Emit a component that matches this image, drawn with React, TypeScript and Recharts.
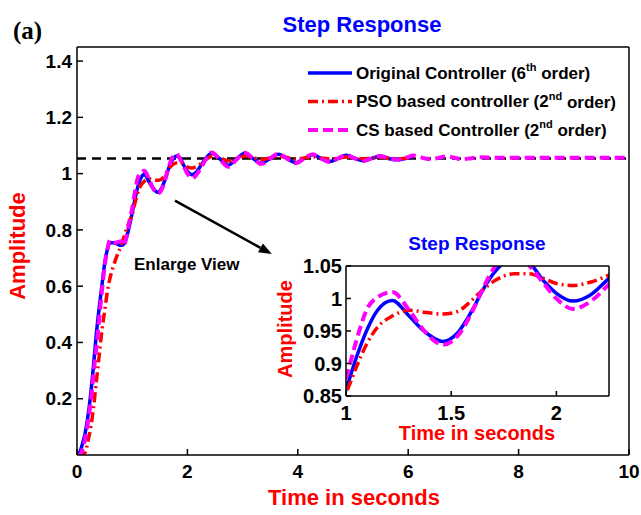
import { LineChart, Line, XAxis, YAxis, ReferenceLine } from "recharts";

// sample times (s) and step responses
const time = [
  0, 0.05, 0.1, 0.15, 0.2, 0.25, 0.3, 0.35, 0.4, 0.45, 0.5, 0.55, 0.6,
  0.7, 0.8, 0.85, 0.9, 0.95, 1.0, 1.05, 1.1, 1.15, 1.22, 1.3, 1.37, 1.46,
  1.53, 1.6, 1.65, 1.71, 1.8, 1.87, 1.94,
  2.0, 2.08, 2.16, 2.25, 2.35, 2.44, 2.59, 2.74, 2.89, 3.04, 3.19, 3.34, 3.5,
  3.65, 3.8, 3.96, 4.12, 4.27, 4.42, 4.58, 4.73, 4.88, 5.03, 5.19, 5.34, 5.49,
  5.64, 5.8, 5.95, 6.1, 6.25, 6.4, 6.55, 6.7, 6.85, 6.97, 7.15, 7.3, 7.6, 8, 9, 10,
];

const original = [
  0, 0.01, 0.04, 0.08, 0.14, 0.22, 0.32, 0.43, 0.52, 0.6, 0.68, 0.73, 0.755,
  0.752, 0.745, 0.75, 0.775, 0.815, 0.86, 0.91, 0.952, 0.982, 0.997, 0.973, 0.95, 0.934,
  0.947, 0.982, 1.013, 1.042, 1.063, 1.055, 1.027,
  1.008, 0.996, 1.005, 1.031, 1.058, 1.072, 1.052, 1.03, 1.052, 1.072, 1.054, 1.037, 1.054,
  1.069, 1.054, 1.039, 1.054, 1.067, 1.054, 1.043, 1.054, 1.065, 1.054, 1.046, 1.054, 1.062,
  1.054, 1.049, 1.054, 1.059, null, null, null, null, null, null, null, null, null, null, null, null,
];

const pso = [
  0, 0, 0.003, 0.01, 0.05, 0.1, 0.17, 0.26, 0.35, 0.44, 0.51, 0.58, 0.63,
  0.695, 0.745, 0.775, 0.805, 0.83, 0.855, 0.895, 0.931, 0.956, 0.973, 0.982, 0.979, 0.976,
  0.98, 0.998, 1.013, 1.028, 1.038, 1.038, 1.031,
  1.023, 1.02, 1.025, 1.036, 1.052, 1.062, 1.056, 1.045, 1.054, 1.063, 1.057, 1.05, 1.056,
  1.062, 1.057, 1.051, 1.056, 1.06, 1.056, 1.052, 1.055, 1.059, 1.056, 1.052, 1.055, 1.058,
  1.055, 1.053, 1.055, 1.057, null, null, null, null, null, null, null, null, null, null, null, null,
];

const cs = [
  0, 0, 0.02, 0.06, 0.12, 0.19, 0.29, 0.38, 0.48, 0.58, 0.67, 0.73, 0.765,
  0.755, 0.76, 0.745, 0.78, 0.83, 0.877, 0.936, 0.984, 1.002, 1.01, 0.982, 0.951, 0.929,
  0.942, 0.98, 1.015, 1.05, 1.07, 1.051, 1.023,
  1.0, 0.984, 0.995, 1.022, 1.057, 1.075, 1.05, 1.024, 1.05, 1.074, 1.054, 1.034, 1.054,
  1.071, 1.054, 1.037, 1.054, 1.069, 1.054, 1.041, 1.054, 1.066, 1.054, 1.045, 1.054, 1.063,
  1.055, 1.05, 1.056, 1.064, 1.057, 1.051, 1.056, 1.061, 1.056, 1.051, 1.055, 1.058, 1.056, 1.056, 1.056, 1.056,
];

const steadyState = 1.054;
const mainXTicks = [0, 2, 4, 6, 8, 10];
const mainYTicks = [0.2, 0.4, 0.6, 0.8, 1, 1.2, 1.4];
const zoomXTicks = [1, 1.5, 2];
const zoomYTicks = [0.85, 0.9, 0.95, 1, 1.05];
const arrowFrom = { x: 1.775, y: 0.904 };
const arrowTo = { x: 3.53, y: 0.714 };

const rows = time.map((t, i) => ({ t, original: original[i], pso: pso[i], cs: cs[i] }));

const FONT = '"Liberation Sans", Arial, Helvetica, sans-serif';
const BLUE = "#0000ff";
const RED = "#ff0000";
const MAGENTA = "#ff00ff";
const PSO_DASH = "10 4 2 4";
const CS_DASH = "10 5";

const tickStyle = { fill: "#000", fontSize: 19, fontWeight: "bold" as const, fontFamily: FONT };
const zoomTickStyle = { ...tickStyle, fontSize: 20 };

const Arrow = (props: any) => {
  const { x1, y1, x2, y2 } = props;
  const a = Math.atan2(y2 - y1, x2 - x1);
  const len = 13;
  const half = 5;
  const bx = x2 - len * Math.cos(a);
  const by = y2 - len * Math.sin(a);
  const pts = `${x2},${y2} ${bx + half * Math.sin(a)},${by - half * Math.cos(a)} ${bx - half * Math.sin(a)},${by + half * Math.cos(a)}`;
  return (
    <g>
      <line x1={x1} y1={y1} x2={bx} y2={by} stroke="#000" strokeWidth={2.5} />
      <polygon points={pts} fill="#000" />
    </g>
  );
};

function series(w: number) {
  return [
    <Line key="o" dataKey="original" type="monotone" stroke={BLUE} strokeWidth={w} dot={false} isAnimationActive={false} />,
    <Line key="p" dataKey="pso" type="monotone" stroke={RED} strokeWidth={w} strokeDasharray={PSO_DASH} dot={false} isAnimationActive={false} />,
    <Line key="c" dataKey="cs" type="monotone" stroke={MAGENTA} strokeWidth={w + 0.5} strokeDasharray={CS_DASH} dot={false} isAnimationActive={false} />,
  ];
}

const legendItems = [
  { color: BLUE, dash: undefined, pre: "Original Controller (6", sup: "th", post: " order)" },
  { color: RED, dash: PSO_DASH, pre: "PSO based controller (2", sup: "nd", post: " order)" },
  { color: MAGENTA, dash: CS_DASH, pre: "CS based Controller (2", sup: "nd", post: " order)" },
];

export default function App() {
  return (
    <div style={{ position: "absolute", left: 0, top: 0, width: 641, height: 515, background: "#fff", fontFamily: FONT }}>
      <LineChart width={641} height={515} data={rows} margin={{ top: 46, right: 11, bottom: 30, left: 17 }}>
        <XAxis dataKey="t" type="number" domain={[0, 10]} ticks={mainXTicks} height={30}
          tickSize={-6} tickMargin={16} stroke="#000" strokeWidth={1.5} tick={tickStyle} />
        <XAxis xAxisId="top" dataKey="t" type="number" orientation="top" domain={[0, 10]} ticks={mainXTicks}
          height={1} tickSize={-6} tick={false} stroke="#000" strokeWidth={1.5} />
        <YAxis type="number" domain={[0, 1.45]} ticks={mainYTicks} width={60} tickSize={-6} tickMargin={11}
          stroke="#000" strokeWidth={1.5} tick={tickStyle} allowDataOverflow />
        <YAxis yAxisId="right" orientation="right" type="number" domain={[0, 1.45]} ticks={mainYTicks} width={1}
          tickSize={-6} tick={false} stroke="#000" strokeWidth={1.5} />
        <ReferenceLine y={steadyState} stroke="#000" strokeWidth={2.5} strokeDasharray="9 6" />
        {series(3.5)}
        <ReferenceLine segment={[arrowFrom, arrowTo]} shape={Arrow} />
      </LineChart>

      <div style={{ position: "absolute", left: 270, top: 228 }}>
        <LineChart width={370} height={220} data={rows} margin={{ top: 37, right: 30, bottom: 22, left: 16 }}>
          <XAxis dataKey="t" type="number" domain={[1, 2.25]} ticks={zoomXTicks} height={30} allowDataOverflow
            tickSize={-5} tickMargin={15} stroke="#000" strokeWidth={1.5} tick={zoomTickStyle} />
          <XAxis xAxisId="top" dataKey="t" type="number" orientation="top" domain={[1, 2.25]} ticks={zoomXTicks}
            allowDataOverflow height={1} tickSize={-5} tick={false} stroke="#000" strokeWidth={1.5} />
          <YAxis type="number" domain={[0.85, 1.05]} ticks={zoomYTicks} width={60} tickSize={-5} tickMargin={9}
            stroke="#000" strokeWidth={1.5} tick={zoomTickStyle} allowDataOverflow />
          <YAxis yAxisId="right" orientation="right" type="number" domain={[0.85, 1.05]} ticks={zoomYTicks}
            allowDataOverflow width={1} tickSize={-5} tick={false} stroke="#000" strokeWidth={1.5} />
          {series(3.5)}
        </LineChart>
      </div>

      <svg width={641} height={515} style={{ position: "absolute", left: 0, top: 0, pointerEvents: "none" }}>
        <text x={13} y={30} fontFamily='"Liberation Serif", "Times New Roman", serif' fontWeight="bold" fontSize={25} dominantBaseline="central">(a)</text>
        <text x={362} y={24} textAnchor="middle" dominantBaseline="central" fill={BLUE} fontWeight="bold" fontSize={22}>Step Response</text>
        <text x={354} y={497} textAnchor="middle" dominantBaseline="central" fill={RED} fontWeight="bold" fontSize={22}>Time in seconds</text>
        <text transform="translate(17,246) rotate(-90)" textAnchor="middle" dominantBaseline="central" fill={RED} fontWeight="bold" fontSize={22}>Amplitude</text>
        <text x={134} y={264} dominantBaseline="central" fontWeight="bold" fontSize={17}>Enlarge View</text>

        <text x={477} y={243} textAnchor="middle" dominantBaseline="central" fill={BLUE} fontWeight="bold" fontSize={19}>Step Response</text>
        <text x={477} y={433} textAnchor="middle" dominantBaseline="central" fill={RED} fontWeight="bold" fontSize={20}>Time in seconds</text>
        <text transform="translate(285,329) rotate(-90)" textAnchor="middle" dominantBaseline="central" fill={RED} fontWeight="bold" fontSize={20}>Amplitude</text>

        {legendItems.map((it, i) => {
          const y = 73 + i * 28.5;
          return (
            <g key={i}>
              <line x1={308} x2={352} y1={y} y2={y} stroke={it.color} strokeWidth={i === 2 ? 4 : 3.5} strokeDasharray={it.dash} />
              <text x={356} y={y} dominantBaseline="central" fontWeight="bold" fontSize={17}>
                {it.pre}
                <tspan fontSize={11} dy={-6}>{it.sup}</tspan>
                <tspan dy={6}>{it.post}</tspan>
              </text>
            </g>
          );
        })}
      </svg>
    </div>
  );
}
